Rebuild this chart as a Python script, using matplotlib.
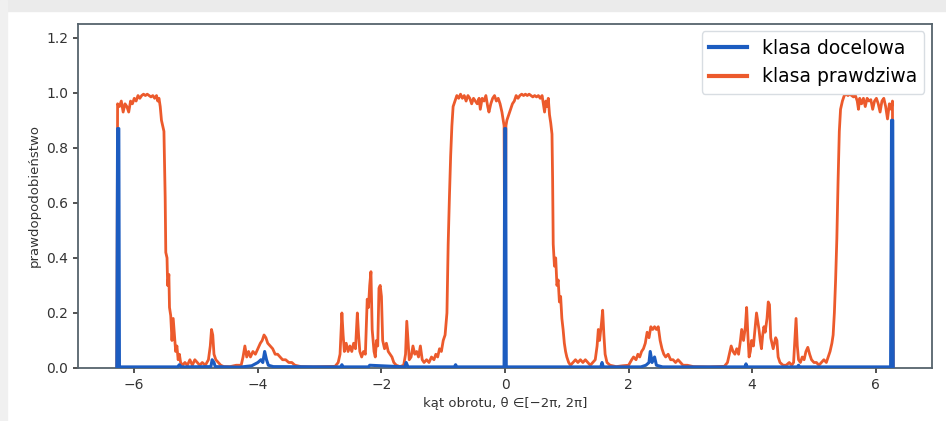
import matplotlib
matplotlib.use("Agg")
import matplotlib.pyplot as plt
from matplotlib.patches import Rectangle

# prawdopodobienstwo klasy prawdziwej
red_x = [-6.283, -6.27, -6.24, -6.21, -6.18, -6.15, -6.12, -6.09, -6.06, -6.03,
         -6.00, -5.97, -5.94, -5.91, -5.88, -5.85, -5.82, -5.79, -5.76, -5.73,
         -5.70, -5.67, -5.64, -5.62, -5.60, -5.58, -5.56, -5.54, -5.52, -5.50,
         -5.49, -5.47, -5.46, -5.44, -5.43, -5.41, -5.39, -5.37, -5.35, -5.33,
         -5.31, -5.29, -5.27, -5.25, -5.22, -5.18, -5.14, -5.10, -5.06, -5.02,
         -4.98, -4.94, -4.90, -4.85, -4.80, -4.77, -4.75, -4.73, -4.71, -4.68,
         -4.64, -4.60, -4.55, -4.45, -4.35, -4.27, -4.24, -4.21, -4.18, -4.15,
         -4.12, -4.08, -4.04, -4.00, -3.96, -3.93, -3.90, -3.87, -3.84, -3.80,
         -3.76, -3.72, -3.68, -3.64, -3.60, -3.55, -3.50, -3.45, -3.40, -3.30,
         -3.10, -2.90, -2.75, -2.70, -2.67, -2.64, -2.62, -2.60, -2.57, -2.54,
         -2.51, -2.48, -2.45, -2.42, -2.39, -2.37, -2.35, -2.32, -2.29, -2.26,
         -2.23, -2.21, -2.19, -2.17, -2.15, -2.12, -2.10, -2.08, -2.06, -2.04,
         -2.02, -2.00, -1.98, -1.95, -1.92, -1.89, -1.86, -1.83, -1.80, -1.76,
         -1.70, -1.64, -1.61, -1.59, -1.57, -1.55, -1.52, -1.49, -1.46, -1.43,
         -1.40, -1.37, -1.34, -1.31, -1.27, -1.23, -1.19, -1.15, -1.12, -1.09,
         -1.06, -1.03, -1.00, -0.97, -0.94, -0.92, -0.90, -0.88, -0.86, -0.84,
         -0.81, -0.78, -0.75, -0.72, -0.69, -0.66, -0.63, -0.60, -0.57, -0.54,
         -0.51, -0.48, -0.45, -0.42, -0.40, -0.37, -0.34, -0.31, -0.28, -0.26,
         -0.23, -0.20, -0.17, -0.14, -0.11, -0.08, -0.05, -0.03, -0.015, 0.0,
         0.015, 0.03, 0.06, 0.09, 0.12, 0.15, 0.18, 0.21, 0.24, 0.27,
         0.30, 0.33, 0.36, 0.39, 0.42, 0.45, 0.48, 0.51, 0.54, 0.57,
         0.60, 0.62, 0.64, 0.66, 0.68, 0.70, 0.72, 0.74, 0.76, 0.77,
         0.78, 0.80, 0.82, 0.84, 0.86, 0.88, 0.90, 0.92, 0.94, 0.96,
         0.98, 1.00, 1.03, 1.06, 1.10, 1.14, 1.18, 1.22, 1.26, 1.30,
         1.34, 1.38, 1.42, 1.46, 1.49, 1.51, 1.53, 1.56, 1.58, 1.60,
         1.62, 1.65, 1.70, 1.80, 1.90, 2.00, 2.05, 2.08, 2.12, 2.15,
         2.18, 2.21, 2.24, 2.27, 2.30, 2.33, 2.36, 2.39, 2.42, 2.45,
         2.48, 2.51, 2.54, 2.57, 2.60, 2.64, 2.68, 2.72, 2.76, 2.80,
         2.84, 2.88, 2.95, 3.05, 3.30, 3.55, 3.60, 3.63, 3.66, 3.69,
         3.72, 3.75, 3.78, 3.81, 3.83, 3.86, 3.89, 3.91, 3.93, 3.95,
         3.97, 3.99, 4.02, 4.05, 4.07, 4.09, 4.11, 4.13, 4.15, 4.17,
         4.19, 4.21, 4.24, 4.26, 4.28, 4.30, 4.32, 4.34, 4.36, 4.38,
         4.40, 4.42, 4.45, 4.50, 4.55, 4.60, 4.64, 4.67, 4.69, 4.71,
         4.73, 4.75, 4.78, 4.81, 4.84, 4.87, 4.90, 4.93, 4.96, 5.00,
         5.04, 5.08, 5.12, 5.16, 5.20, 5.23, 5.26, 5.29, 5.31, 5.33,
         5.35, 5.37, 5.39, 5.41, 5.43, 5.46, 5.49, 5.52, 5.55, 5.58,
         5.61, 5.64, 5.67, 5.70, 5.72, 5.74, 5.77, 5.80, 5.83, 5.86,
         5.89, 5.92, 5.95, 5.98, 6.01, 6.04, 6.07, 6.10, 6.13, 6.16,
         6.19, 6.22, 6.25, 6.27, 6.283]
red_y = [0.0, 0.96, 0.95, 0.97, 0.93, 0.96, 0.95, 0.93, 0.97, 0.96,
         0.98, 0.97, 0.99, 0.98, 0.99, 0.995, 0.99, 0.995, 0.99, 0.985,
         0.99, 0.98, 0.99, 0.97, 0.98, 0.95, 0.90, 0.88, 0.86, 0.62,
         0.42, 0.40, 0.30, 0.34, 0.22, 0.19, 0.10, 0.18, 0.12, 0.06,
         0.08, 0.03, 0.05, 0.02, 0.01, 0.02, 0.01, 0.03, 0.01, 0.03,
         0.02, 0.01, 0.02, 0.01, 0.03, 0.08, 0.14, 0.12, 0.05, 0.03,
         0.02, 0.01, 0.005, 0.005, 0.01, 0.01, 0.04, 0.08, 0.04, 0.06,
         0.04, 0.06, 0.05, 0.07, 0.09, 0.10, 0.12, 0.11, 0.09, 0.08,
         0.07, 0.05, 0.05, 0.04, 0.03, 0.03, 0.02, 0.02, 0.01, 0.005,
         0.004, 0.005, 0.006, 0.02, 0.05, 0.20, 0.12, 0.06, 0.09, 0.06,
         0.08, 0.06, 0.09, 0.07, 0.20, 0.12, 0.06, 0.04, 0.06, 0.05,
         0.25, 0.22, 0.30, 0.35, 0.14, 0.06, 0.04, 0.10, 0.08, 0.29,
         0.30, 0.26, 0.10, 0.07, 0.09, 0.06, 0.05, 0.04, 0.02, 0.01,
         0.005, 0.01, 0.05, 0.17, 0.10, 0.03, 0.04, 0.08, 0.05, 0.06,
         0.04, 0.08, 0.03, 0.02, 0.03, 0.02, 0.04, 0.03, 0.05, 0.04,
         0.07, 0.06, 0.10, 0.12, 0.20, 0.45, 0.62, 0.77, 0.88, 0.95,
         0.97, 0.99, 0.98, 0.995, 0.98, 0.99, 0.97, 0.99, 0.98, 0.96,
         0.98, 0.97, 0.96, 0.98, 0.94, 0.98, 0.97, 0.99, 0.95, 0.93,
         0.96, 0.98, 0.99, 0.97, 0.98, 0.96, 0.93, 0.90, 0.88, 0.0,
         0.88, 0.90, 0.92, 0.94, 0.96, 0.97, 0.99, 0.98, 0.99, 0.995,
         0.99, 0.995, 0.99, 0.995, 0.99, 0.985, 0.99, 0.985, 0.99, 0.98,
         0.99, 0.96, 0.93, 0.97, 0.95, 0.98, 0.92, 0.89, 0.85, 0.69,
         0.45, 0.37, 0.40, 0.30, 0.32, 0.24, 0.26, 0.18, 0.14, 0.09,
         0.06, 0.04, 0.02, 0.01, 0.02, 0.03, 0.02, 0.03, 0.02, 0.03,
         0.02, 0.01, 0.02, 0.03, 0.08, 0.14, 0.10, 0.16, 0.21, 0.12,
         0.05, 0.02, 0.01, 0.005, 0.008, 0.01, 0.03, 0.04, 0.03, 0.05,
         0.04, 0.06, 0.07, 0.09, 0.13, 0.11, 0.15, 0.14, 0.15, 0.14,
         0.15, 0.10, 0.07, 0.05, 0.04, 0.05, 0.03, 0.03, 0.02, 0.03,
         0.02, 0.01, 0.01, 0.005, 0.004, 0.006, 0.02, 0.05, 0.08, 0.06,
         0.05, 0.07, 0.05, 0.10, 0.14, 0.10, 0.15, 0.22, 0.12, 0.04,
         0.06, 0.10, 0.08, 0.15, 0.20, 0.17, 0.14, 0.10, 0.07, 0.12,
         0.15, 0.13, 0.18, 0.24, 0.23, 0.11, 0.09, 0.07, 0.09, 0.11,
         0.10, 0.04, 0.02, 0.01, 0.01, 0.02, 0.01, 0.02, 0.10, 0.18,
         0.08, 0.03, 0.02, 0.04, 0.03, 0.06, 0.075, 0.05, 0.03, 0.02,
         0.02, 0.01, 0.02, 0.03, 0.02, 0.04, 0.06, 0.09, 0.12, 0.20,
         0.32, 0.47, 0.68, 0.86, 0.94, 0.97, 0.99, 0.995, 0.99, 0.995,
         0.99, 0.985, 0.99, 0.97, 0.94, 0.98, 0.96, 0.98, 0.95, 0.98,
         0.97, 0.975, 0.94, 0.97, 0.98, 0.96, 0.93, 0.97, 0.98, 0.95,
         0.905, 0.96, 0.94, 0.97, 0.0]

# prawdopodobienstwo klasy docelowej
blue_x = [-6.283, -6.27, -6.25, -6.24, -5.30, -5.27, -5.24, -4.76, -4.74, -4.71,
          -4.69, -4.30, -4.10, -4.00, -3.95, -3.92, -3.89, -3.86, -3.83, -3.75,
          -2.66, -2.64, -2.62, -2.21, -2.19, -1.62, -1.60, -1.57, -0.82, -0.80,
          -0.78, -0.015, -0.005, 0.01, 0.02, 1.55, 1.57, 1.59, 2.20, 2.28,
          2.33, 2.35, 2.38, 2.42, 2.45, 2.55, 3.88, 3.90, 3.92, 4.73, 4.75,
          4.77, 6.24, 6.255, 6.275, 6.283]
blue_y = [0.003, 0.87, 0.87, 0.004, 0.004, 0.012, 0.004, 0.005, 0.03, 0.02,
          0.005, 0.003, 0.008, 0.02, 0.03, 0.02, 0.06, 0.03, 0.01, 0.005,
          0.004, 0.012, 0.004, 0.004, 0.01, 0.004, 0.02, 0.004, 0.004, 0.012,
          0.004, 0.004, 0.87, 0.87, 0.004, 0.004, 0.02, 0.004, 0.004, 0.01,
          0.02, 0.06, 0.02, 0.04, 0.01, 0.004, 0.004, 0.015, 0.004, 0.004,
          0.01, 0.004, 0.004, 0.90, 0.90, 0.003]

xticks = [-6, -4, -2, 0, 2, 4, 6]
yticks = [0.0, 0.2, 0.4, 0.6, 0.8, 1.0, 1.2]

fig = plt.figure(figsize=(9.46, 4.21), dpi=100)
# cien ramki jak na zrzucie
fig.patches.append(Rectangle((0, 0.975), 1, 0.025, transform=fig.transFigure,
                             color='#ebebeb', zorder=0))
fig.patches.append(Rectangle((0, 0), 0.007, 1, transform=fig.transFigure,
                             color='#f0f0f0', zorder=0))

ax = fig.add_axes([0.0825, 0.1259, 0.9027, 0.8171])
ax.plot(blue_x, blue_y, color='#1c5cc0', lw=2.2, zorder=3, label='klasa docelowa')
ax.plot(red_x, red_y, color='#ec5a2c', lw=2.0, zorder=2, label='klasa prawdziwa')

ax.set_xlim(-6.91, 6.91)
ax.set_ylim(0, 1.25)
ax.set_xticks(xticks)
ax.set_yticks(yticks)
ax.set_xticklabels([f'{t}'.replace('-', '\u2212') for t in xticks])
ax.set_yticklabels([f'{t:.1f}' for t in yticks])
ax.tick_params(labelsize=10, colors='#333333', width=1.2)
for s in ax.spines.values():
    s.set_color('#56636c')
    s.set_linewidth(1.3)

ax.set_xlabel('kąt obrotu, θ ∈[−2π, 2π]', fontsize=9.5, color='#333333')
ax.set_ylabel('prawdopodobieństwo', fontsize=9.5, color='#333333')
leg = ax.legend(loc='upper right', fontsize=13.5, edgecolor='#d8dde2',
                framealpha=1, borderaxespad=0.4)
for h in leg.get_lines():
    h.set_linewidth(3)

fig.savefig('out.png', dpi=100)
